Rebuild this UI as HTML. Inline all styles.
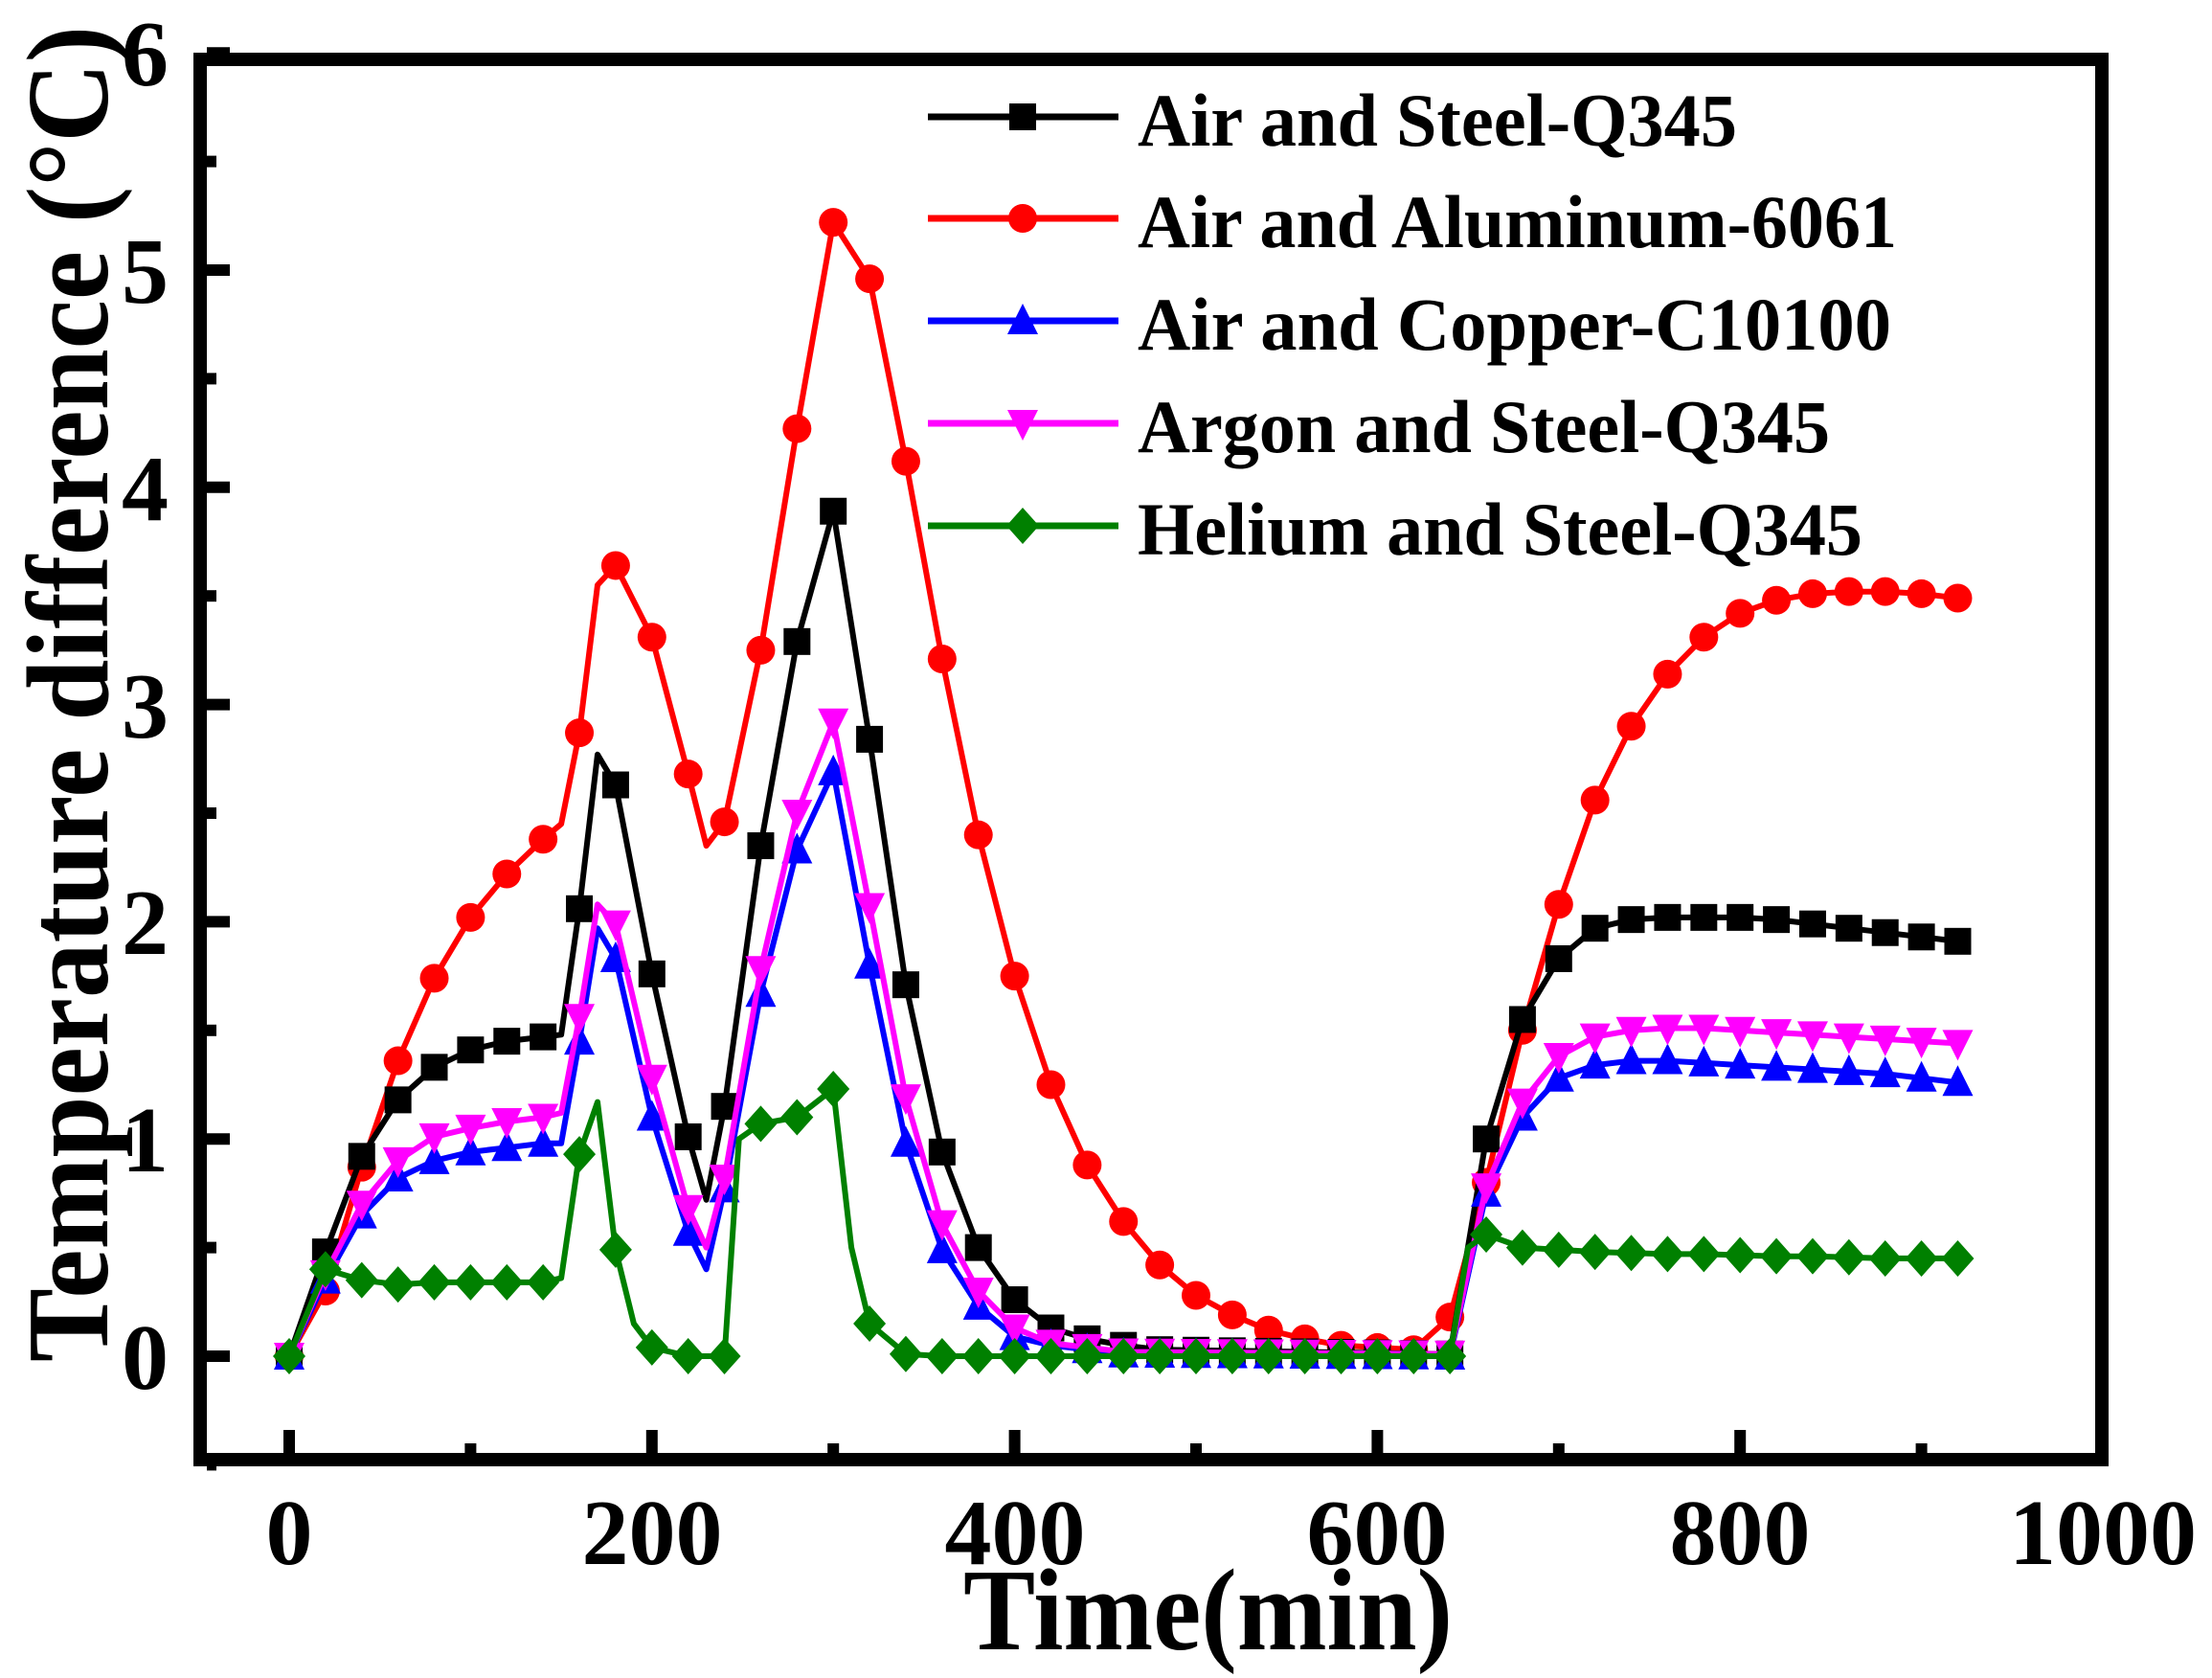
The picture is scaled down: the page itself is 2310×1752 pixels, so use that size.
<!DOCTYPE html>
<html><head><meta charset="utf-8"><style>html,body{margin:0;padding:0;background:#fff}svg{display:block}</style></head>
<body>
<svg id="s" width="2310" height="1752" viewBox="0 0 2310 1752" xmlns="http://www.w3.org/2000/svg" font-family="'Liberation Serif',serif" font-weight="bold">
<rect width="2310" height="1752" fill="#fff"/>
<g id="series"></g>
<rect x="209" y="62" width="1986" height="1462" fill="none" stroke="#000" stroke-width="14"/>
<g id="ticks" stroke="#000" stroke-width="12"></g>
<g font-size="98" text-anchor="end">
<text x="176" y="1450">0</text><text x="176" y="1223">1</text><text x="176" y="996">2</text>
<text x="176" y="770">3</text><text x="176" y="543">4</text><text x="176" y="316">5</text><text x="176" y="89">6</text>
</g>
<g font-size="98" text-anchor="middle">
<text x="302" y="1633">0</text><text x="681" y="1633">200</text><text x="1060" y="1633">400</text>
<text x="1438" y="1633">600</text><text x="1817" y="1633">800</text><text x="2196" y="1633">1000</text>
</g>
<text x="1006" y="1722" font-size="122" textLength="511" lengthAdjust="spacingAndGlyphs">Time(min)</text>
<text transform="translate(112,1422) rotate(-90)" font-size="122" textLength="1395" lengthAdjust="spacingAndGlyphs">Temperature difference (°C)</text>
<g font-size="78">
<text x="1188" y="152" textLength="626" lengthAdjust="spacingAndGlyphs">Air and Steel-Q345</text>
<text x="1188" y="258" textLength="793" lengthAdjust="spacingAndGlyphs">Air and Aluminum-6061</text>
<text x="1188" y="365" textLength="787" lengthAdjust="spacingAndGlyphs">Air and Copper-C10100</text>
<text x="1188" y="472" textLength="723" lengthAdjust="spacingAndGlyphs">Argon and Steel-Q345</text>
<text x="1188" y="579" textLength="757" lengthAdjust="spacingAndGlyphs">Helium and Steel-Q345</text>
</g>
<g id="legend"></g>
<script>
var X=function(x){return 302+x*1.894},Y=function(y){return 1416-y*226.8};
var ns="http://www.w3.org/2000/svg";
function el(p,t,a){var e=document.createElementNS(ns,t);for(var k in a)e.setAttribute(k,a[k]);p.appendChild(e);return e;}
var tk=document.getElementById('ticks');
for(var i=-0.5;i<=6;i+=0.5){var L=(Math.abs(i-Math.round(i))<0.01)?24:10;el(tk,'line',{x1:216,x2:216+L,y1:Y(i),y2:Y(i)});}
for(var i=0;i<=900;i+=100){var L=(i%200==0)?24:10;el(tk,'line',{x1:X(i),x2:X(i),y1:1517,y2:1517-L});}
function flat(a,b,v0,v1){var r=[];for(var x=a;x<=b;x+=20){r.push([x,v0+(v1-v0)*(x-a)/(b-a)]);}return r;}
var S=[
{c:'#ff0000',m:'circle',d:[[0,0],[20,0.3],[40,0.87],[60,1.36],[80,1.74],[100,2.02],[120,2.22],[140,2.38],[150,2.45,1],[160,2.87],[170,3.55,1],[180,3.64],[200,3.31],[220,2.68],[230,2.35,1],[240,2.46],[260,3.25],[280,4.27],[300,5.22],[320,4.96],[340,4.12],[360,3.21],[380,2.40],[400,1.75],[420,1.25],[440,0.88],[460,0.62],[480,0.42],[500,0.28],[520,0.19],[540,0.12],[560,0.08],[580,0.05],[600,0.04],[620,0.03],[640,0.18],[660,0.8],[680,1.5],[700,2.08],[720,2.56],[740,2.90],[760,3.14],[780,3.31],[800,3.42],[820,3.48],[840,3.51],[860,3.52],[880,3.52],[900,3.51],[920,3.49]]},
{c:'#000000',m:'square',d:[[0,0],[20,0.48],[40,0.92],[60,1.18],[80,1.33],[100,1.41],[120,1.45],[140,1.47],[150,1.48,1],[160,2.06],[170,2.77,1],[180,2.63],[200,1.76],[220,1.01],[230,0.72,1],[240,1.15],[260,2.35],[280,3.29],[300,3.89],[320,2.84],[340,1.71],[360,0.94],[380,0.50],[400,0.26],[420,0.13],[440,0.08],[460,0.05]].concat(flat(480,640,0.03,0.01)).concat([[660,1.0],[680,1.55],[700,1.83],[720,1.97],[740,2.01],[760,2.02],[780,2.02],[800,2.02],[820,2.01],[840,1.99],[860,1.97],[880,1.95],[900,1.93],[920,1.91]])},
{c:'#0000ff',m:'up',d:[[0,0],[20,0.35],[40,0.65],[60,0.82],[80,0.90],[100,0.94],[120,0.96],[140,0.98],[150,0.98,1],[160,1.45],[170,1.97,1],[180,1.83],[200,1.10],[220,0.57],[230,0.40,1],[240,0.77],[260,1.67],[280,2.33],[300,2.69],[320,1.80],[340,0.98],[360,0.49],[380,0.23],[400,0.09],[420,0.05],[440,0.03]].concat(flat(460,640,0.01,0)).concat([[660,0.75],[680,1.10],[700,1.28],[720,1.34],[740,1.36],[760,1.36],[780,1.35],[800,1.34],[820,1.33],[840,1.32],[860,1.31],[880,1.30],[900,1.28],[920,1.26]])},
{c:'#ff00ff',m:'down',d:[[0,0],[20,0.38],[40,0.70],[60,0.90],[80,1.01],[100,1.05],[120,1.08],[140,1.10],[150,1.12,1],[160,1.56],[170,2.08,1],[180,1.99],[200,1.28],[220,0.68],[230,0.50,1],[240,0.82],[260,1.78],[280,2.50],[300,2.92],[320,2.07],[340,1.19],[360,0.61],[380,0.30],[400,0.13],[420,0.06],[440,0.04]].concat(flat(460,640,0.02,0.01)).concat([[660,0.78],[680,1.17],[700,1.38],[720,1.47],[740,1.50],[760,1.51],[780,1.51],[800,1.50],[820,1.49],[840,1.48],[860,1.47],[880,1.46],[900,1.45],[920,1.44]])},
{c:'#008000',m:'diamond',d:[[0,0],[20,0.40],[40,0.35],[60,0.33],[80,0.34],[100,0.34],[120,0.34],[140,0.34],[150,0.36,1],[160,0.93],[170,1.17,1],[180,0.49],[190,0.15,1],[200,0.04],[220,0],[240,0],[248,1.0,1],[260,1.07],[280,1.10],[300,1.23],[310,0.5,1],[320,0.15],[340,0.01]].concat(flat(360,640,0,0)).concat([[650,0.5,1],[660,0.56],[680,0.50],[700,0.49],[720,0.48],[740,0.475],[760,0.47],[780,0.47],[800,0.465],[820,0.46],[840,0.46],[860,0.455],[880,0.45],[900,0.45],[920,0.45]])}
];
function mk(g,m,cx,cy,c){var r=15;
if(m=='circle')el(g,'circle',{cx:cx,cy:cy,r:r,fill:c});
else if(m=='square')el(g,'rect',{x:cx-r+1,y:cy-r+1,width:2*r-2,height:2*r-2,fill:c});
else if(m=='up')el(g,'polygon',{points:(cx)+','+(cy-r-3)+' '+(cx-r-1)+','+(cy+r-1)+' '+(cx+r+1)+','+(cy+r-1),fill:c});
else if(m=='down')el(g,'polygon',{points:(cx)+','+(cy+r+3)+' '+(cx-r-1)+','+(cy-r+1)+' '+(cx+r+1)+','+(cy-r+1),fill:c});
else el(g,'polygon',{points:cx+','+(cy-r-4)+' '+(cx+r+2)+','+cy+' '+cx+','+(cy+r+4)+' '+(cx-r-2)+','+cy,fill:c});}
var g=document.getElementById('series');
S.forEach(function(s){var p='';s.d.forEach(function(q,i){p+=(i?'L':'M')+X(q[0]).toFixed(1)+','+Y(q[1]).toFixed(1);});
el(g,'path',{d:p,fill:'none',stroke:s.c,'stroke-width':6,'stroke-linejoin':'round'});
s.d.forEach(function(q){if(!q[2])mk(g,s.m,X(q[0]),Y(q[1]),s.c);});});
var lg=document.getElementById('legend');var ly=[122,228,335,442,549];
[1,0,2,3,4].forEach(function(k,i){var s=S[k];el(lg,'line',{x1:969,x2:1168,y1:ly[i],y2:ly[i],stroke:s.c,'stroke-width':7});mk(lg,s.m,1068,ly[i],s.c);});
</script>
</svg>
</body></html>
